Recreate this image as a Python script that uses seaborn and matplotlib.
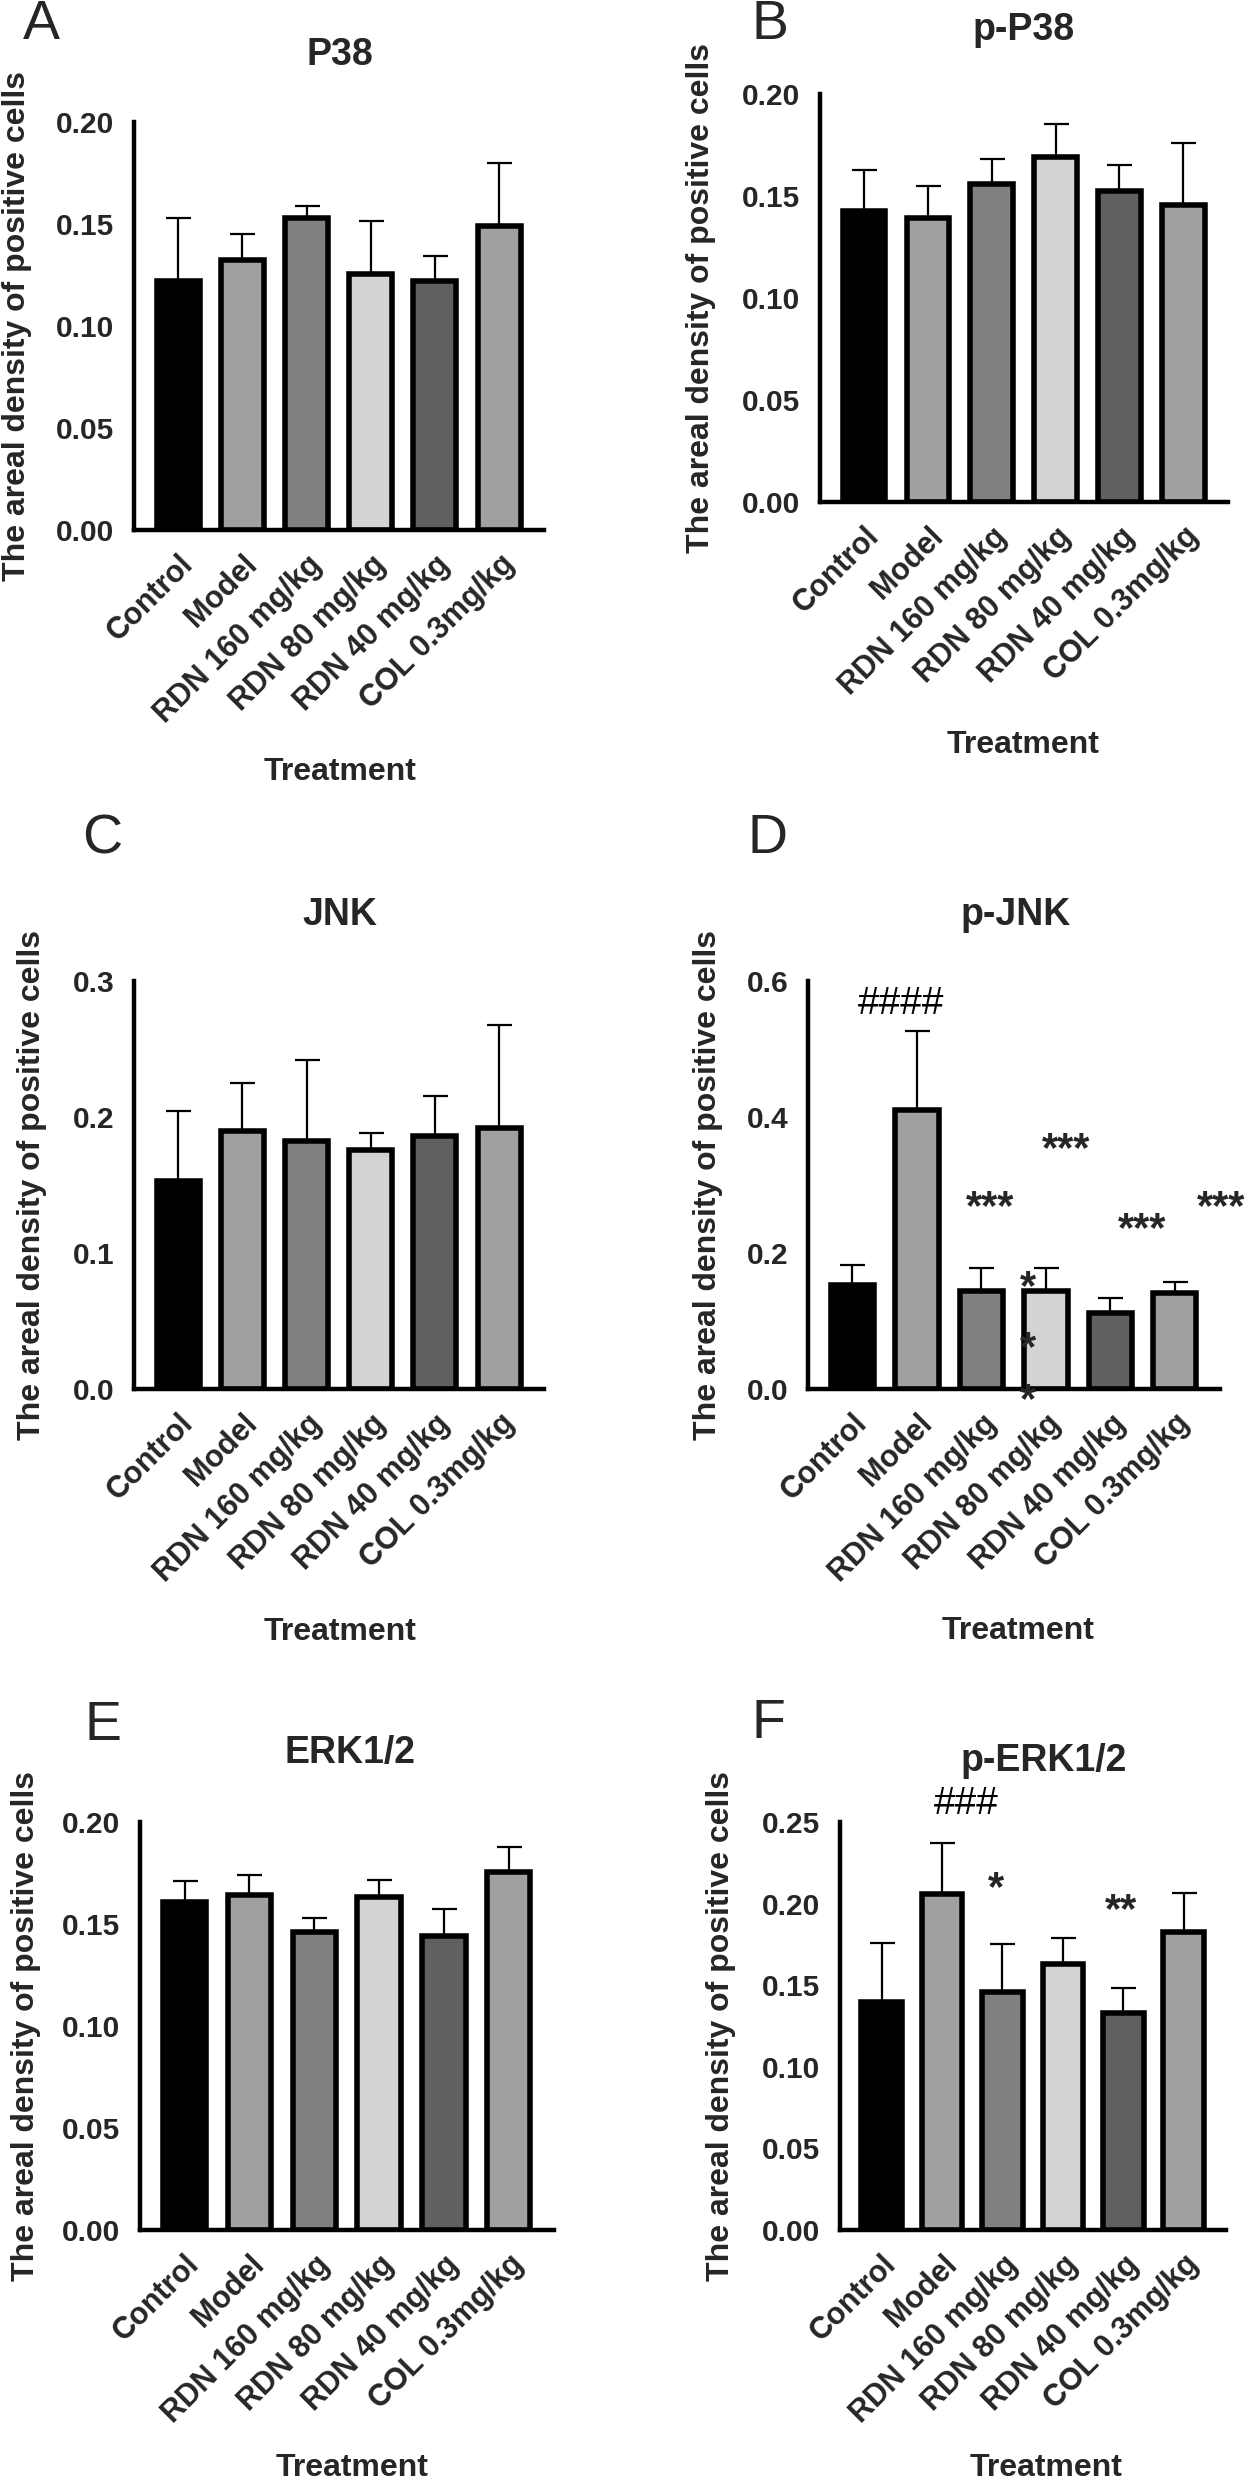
import matplotlib
matplotlib.use("Agg")
import matplotlib.pyplot as plt
import matplotlib.transforms as mtransforms
import seaborn as sns
import pandas as pd
import numpy as np
from matplotlib.ticker import FormatStrFormatter

# groups and bar fills
groups = ["Control", "Model", "RDN 160 mg/kg", "RDN 80 mg/kg", "RDN 40 mg/kg", "COL 0.3mg/kg"]
fills = ["#000000", "#a0a0a0", "#808080", "#d3d3d3", "#606060", "#a0a0a0"]

# means and upper SD
p38_mean = [0.122, 0.1325, 0.1527, 0.1256, 0.122, 0.149]
p38_err = [0.031, 0.0125, 0.0063, 0.0261, 0.0125, 0.0307]
pp38_mean = [0.1425, 0.139, 0.1557, 0.169, 0.1525, 0.1457]
pp38_err = [0.0203, 0.0157, 0.0123, 0.0163, 0.0127, 0.0303]
jnk_mean = [0.1528, 0.1897, 0.1824, 0.176, 0.1857, 0.1921]
jnk_err = [0.0519, 0.0353, 0.0596, 0.012, 0.0299, 0.0754]
pjnk_mean = [0.1525, 0.411, 0.1444, 0.1444, 0.112, 0.141]
pjnk_err = [0.03, 0.116, 0.0336, 0.0336, 0.022, 0.017]
erk_mean = [0.1606, 0.1643, 0.146, 0.1633, 0.144, 0.1757]
erk_err = [0.0106, 0.0095, 0.0067, 0.0084, 0.0132, 0.0119]
perk_mean = [0.1397, 0.2057, 0.146, 0.1632, 0.1331, 0.1823]
perk_err = [0.0363, 0.0313, 0.0293, 0.0158, 0.0152, 0.0241]

# significance marks: (text, x in bar units, y in data units)
pjnk_marks = [("####", 0.76, 0.566), ("***", 2.13, 0.284),
              ("***", 3.31, 0.369), ("***", 4.49, 0.251),
              ("***", 5.72, 0.284), ("*", 2.72, 0.166),
              ("*", 2.72, 0.077), ("*", 2.72, 0.0)]
perk_marks = [("###", 1.40, 0.261), ("*", 1.89, 0.216), ("**", 3.96, 0.203)]

W, H = 1248, 2481
sns.set_style("white")
plt.rcParams["font.family"] = ["Liberation Sans", "DejaVu Sans"]
plt.rcParams["font.weight"] = "bold"

fig = plt.figure(figsize=(W / 100, H / 100), dpi=100)


def panel(box, letter, letter_xy, title, title_xy, xlab_xy, ylab_x,
          means, errs, ymax, step, fmt, marks=()):
    x0, y0, x1, y1 = box
    ax = fig.add_axes([x0 / W, 1 - y1 / H, (x1 - x0) / W, (y1 - y0) / H])
    df = pd.DataFrame({"group": groups, "value": means})
    sns.barplot(data=df, x="group", y="value", hue="group", palette=fills,
                order=groups, hue_order=groups, errorbar=None, width=0.67,
                edgecolor="black", linewidth=4, legend=False, ax=ax)
    ax.errorbar(range(len(groups)), means, yerr=[np.zeros(len(errs)), errs],
                fmt="none", ecolor="black", elinewidth=1.6, capsize=9,
                capthick=1.6, zorder=0.5)
    ax.set_xlim(-0.69, len(groups) - 0.3)
    ax.set_ylim(0, ymax)
    ax.set_yticks(np.arange(0, ymax + step / 2, step))
    ax.yaxis.set_major_formatter(FormatStrFormatter(fmt))
    sns.despine(ax=ax)
    for s in ["left", "bottom"]:
        ax.spines[s].set_linewidth(3.2)
        ax.spines[s].set_color("black")
    ax.tick_params(axis="both", direction="out", length=11, width=3.2,
                   color="black", pad=3)
    ax.tick_params(axis="y", labelsize=21.5)
    ax.set_xticks(range(len(groups)))
    ax.set_xticklabels(groups, rotation=45, ha="right", va="top",
                       rotation_mode="anchor", fontweight="bold", fontsize=22)
    for lab in ax.get_yticklabels():
        lab.set_fontweight("bold")
    ax.set_xlabel("")
    ax.set_ylabel("")
    # asterisks sit high in their text box, so nudge them down a little
    star_tr = mtransforms.offset_copy(ax.transData, fig=fig, x=0, y=-12, units="dots")
    for txt, mx, my in marks:
        if txt.startswith("#"):
            ax.text(mx, my, txt, ha="center", va="center", fontsize=28,
                    fontweight="normal", color="black")
        else:
            ax.text(mx, my, txt, ha="center", va="center", fontsize=30,
                    fontweight="bold", transform=star_tr)
    fig.text(letter_xy[0] / W, 1 - letter_xy[1] / H, letter, fontsize=40,
             fontweight="normal", ha="center", va="center")
    fig.text(title_xy[0] / W, 1 - title_xy[1] / H, title, fontsize=27,
             fontweight="bold", ha="center", va="center")
    fig.text(xlab_xy[0] / W, 1 - xlab_xy[1] / H, "Treatment", fontsize=23,
             fontweight="bold", ha="center", va="center")
    fig.text(ylab_x / W, 1 - ((y0 + y1) / 2) / H,
             "The areal density of positive cells", fontsize=23,
             fontweight="bold", rotation=90, ha="center", va="center")
    return ax


panel((134, 122, 544, 530), "A", (41, 25), "P38", (340, 55), (340, 772), 17,
      p38_mean, p38_err, 0.20, 0.05, "%.2f")
panel((820, 94, 1228, 502), "B", (770, 25), "p-P38", (1024, 30), (1023, 745), 701,
      pp38_mean, pp38_err, 0.20, 0.05, "%.2f")
panel((134, 981, 544, 1389), "C", (102, 840), "JNK", (340, 915), (340, 1632), 32,
      jnk_mean, jnk_err, 0.3, 0.1, "%.1f")
panel((808, 981, 1220, 1389), "D", (768, 839), "p-JNK", (1016, 915), (1018, 1631), 708,
      pjnk_mean, pjnk_err, 0.6, 0.2, "%.1f", pjnk_marks)
panel((140, 1822, 554, 2230), "E", (103, 1726), "ERK1/2", (350, 1753), (352, 2468), 26,
      erk_mean, erk_err, 0.20, 0.05, "%.2f")
panel((840, 1822, 1226, 2230), "F", (768, 1724), "p-ERK1/2", (1044, 1761), (1046, 2468), 721,
      perk_mean, perk_err, 0.25, 0.05, "%.2f", perk_marks)

fig.savefig("out.png", dpi=100, facecolor="white")
